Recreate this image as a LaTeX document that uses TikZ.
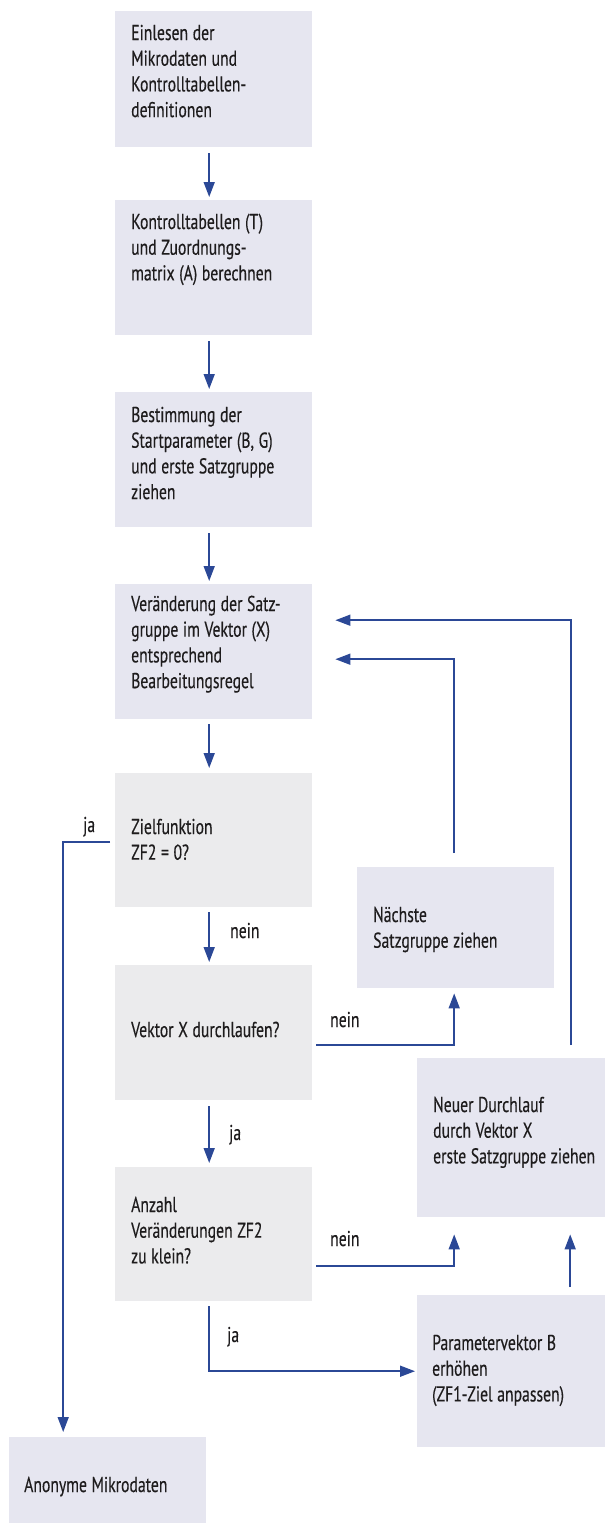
\documentclass[tikz,border=0pt]{standalone}
\usepackage{fontspec}
\setmainfont{PT Sans}[FakeStretch=0.73, FakeBold=0.3]
\usetikzlibrary{arrows.meta}
\definecolor{lav}{HTML}{E6E6F0}
\definecolor{grb}{HTML}{EBEBED}
\definecolor{lc}{HTML}{2B4896}
\definecolor{tc}{HTML}{1E1C1D}
\newcommand{\boxfont}{\fontsize{21.5}{25.7}\selectfont}
\tikzset{
  box/.style={fill=lav, draw=none, anchor=north west, inner sep=0pt},
  dbox/.style={box, fill=grb},
  txt/.style={anchor=base west, inner sep=0pt, align=left, text width=200pt, text=tc,
    font=\boxfont, execute at begin node={\spaceskip=4.6pt plus 1pt minus 1pt\relax}},
  lbl/.style={anchor=base west, inner sep=0pt, text=tc, font=\boxfont},
  arr/.style={draw=lc, line width=1.6pt, -{Triangle[length=15pt,width=11pt]}},
}
\begin{document}
\begin{tikzpicture}[x=1pt,y=-1pt]
\useasboundingbox (0,0) rectangle (605,1524);
% main column
\node[box, minimum width=197pt, minimum height=136pt] (b1) at (115,11) {};
\node[box, minimum width=197pt, minimum height=135pt] (b2) at (115,200) {};
\node[box, minimum width=197pt, minimum height=135pt] (b3) at (115,392) {};
\node[box, minimum width=197pt, minimum height=135pt] (b4) at (115,584) {};
\node[dbox, minimum width=197pt, minimum height=134pt] (b5) at (115,773) {};
\node[dbox, minimum width=197pt, minimum height=135pt] (b6) at (115,965) {};
\node[dbox, minimum width=197pt, minimum height=134pt] (b7) at (115,1167) {};
% side boxes
\node[box, minimum width=197pt, minimum height=121pt] (nx) at (357,867) {};
\node[box, minimum width=188pt, minimum height=159pt] (nd) at (417,1058) {};
\node[box, minimum width=188pt, minimum height=152pt] (pv) at (417,1295) {};
\node[box, minimum width=197pt, minimum height=86pt] (an) at (9,1437) {};
% texts
\node[txt] (t1) at (131,40) {Einlesen der\\Mikrodaten und\\Kontrolltabellen-\\definitionen};
\node[txt] (t2) at (131,229) {Kontrolltabellen (T)\\und Zuordnungs-\\matrix (A) berechnen};
\node[txt] (t3) at (131,422) {Bestimmung der\\Startparameter (B, G)\\und erste Satzgruppe\\ziehen};
\node[txt] (t4) at (131,611) {Veränderung der Satz-\\gruppe im Vektor (X)\\entsprechend\\Bearbeitungsregel};
\node[txt] (t5) at (131,834) {Zielfunktion\\ZF2 = 0?};
\node[txt] (t6) at (131,1037) {Vektor X durchlaufen?};
\node[txt] (t7) at (131,1212) {Anzahl\\Veränderungen ZF2\\zu klein?};
\node[txt] (tnx) at (373,922) {Nächste\\Satzgruppe ziehen};
\node[txt] (tnd) at (433,1112) {Neuer Durchlauf\\durch Vektor X\\erste Satzgruppe ziehen};
\node[txt] (tpv) at (432,1350) {Parametervektor B\\erhöhen\\(ZF1-Ziel anpassen)};
\node[txt] (tan) at (24,1492) {Anonyme Mikrodaten};
% labels
\node[lbl] (l1) at (83,832) {ja};
\node[lbl] (l2) at (230,938) {nein};
\node[lbl] (l3) at (330,1027) {nein};
\node[lbl] (l4) at (229,1140) {ja};
\node[lbl] (l5) at (330,1246) {nein};
\node[lbl] (l6) at (227,1342) {ja};
% vertical flow
\draw[arr] ([xshift=-4.5pt,yshift=-6pt]b1.south) -- ([xshift=-4.5pt,yshift=3pt]b2.north);
\draw[arr] ([xshift=-4.5pt,yshift=-6pt]b2.south) -- ([xshift=-4.5pt,yshift=3pt]b3.north);
\draw[arr] ([xshift=-4.5pt,yshift=-6pt]b3.south) -- ([xshift=-4.5pt,yshift=3pt]b4.north);
\draw[arr] ([xshift=-4.5pt,yshift=-5pt]b4.south) -- ([xshift=-4.5pt,yshift=5pt]b5.north);
\draw[arr] ([xshift=-4.5pt,yshift=-5pt]b5.south) -- ([xshift=-4.5pt,yshift=3pt]b6.north);
\draw[arr] ([xshift=-4.5pt,yshift=-6pt]b6.south) -- ([xshift=-4.5pt,yshift=4pt]b7.north);
% ja -> anonyme
\draw[arr] ([xshift=-5pt,yshift=-2pt]b5.west) -| ([xshift=-44.5pt,yshift=5pt]an.north);
% Vektor X nein -> naechste
\draw[arr] ([xshift=4pt,yshift=-12.5pt]b6.east) -| ([xshift=-1.5pt,yshift=-5pt]nx.south);
% naechste -> b4
\draw[arr] ([xshift=-1.5pt,yshift=14pt]nx.north) |- ([xshift=23pt,yshift=-7.5pt]b4.east);
% neuer durchlauf -> b4
\draw[arr] ([xshift=60pt,yshift=13pt]nd.north) |- ([xshift=23pt,yshift=31.5pt]b4.east);
% Anzahl nein -> neuer
\draw[arr] ([xshift=4pt,yshift=-32pt]b7.east) -| ([xshift=-57pt,yshift=-17pt]nd.south);
% param -> neuer
\draw[arr] ([xshift=59pt,yshift=8pt]pv.north) -- ([xshift=59pt,yshift=-17pt]nd.south);
% Anzahl ja -> param
\draw[arr] ([xshift=-4.5pt,yshift=-5pt]b7.south) |- ([xshift=-2pt]pv.west);
\end{tikzpicture}
\end{document}
